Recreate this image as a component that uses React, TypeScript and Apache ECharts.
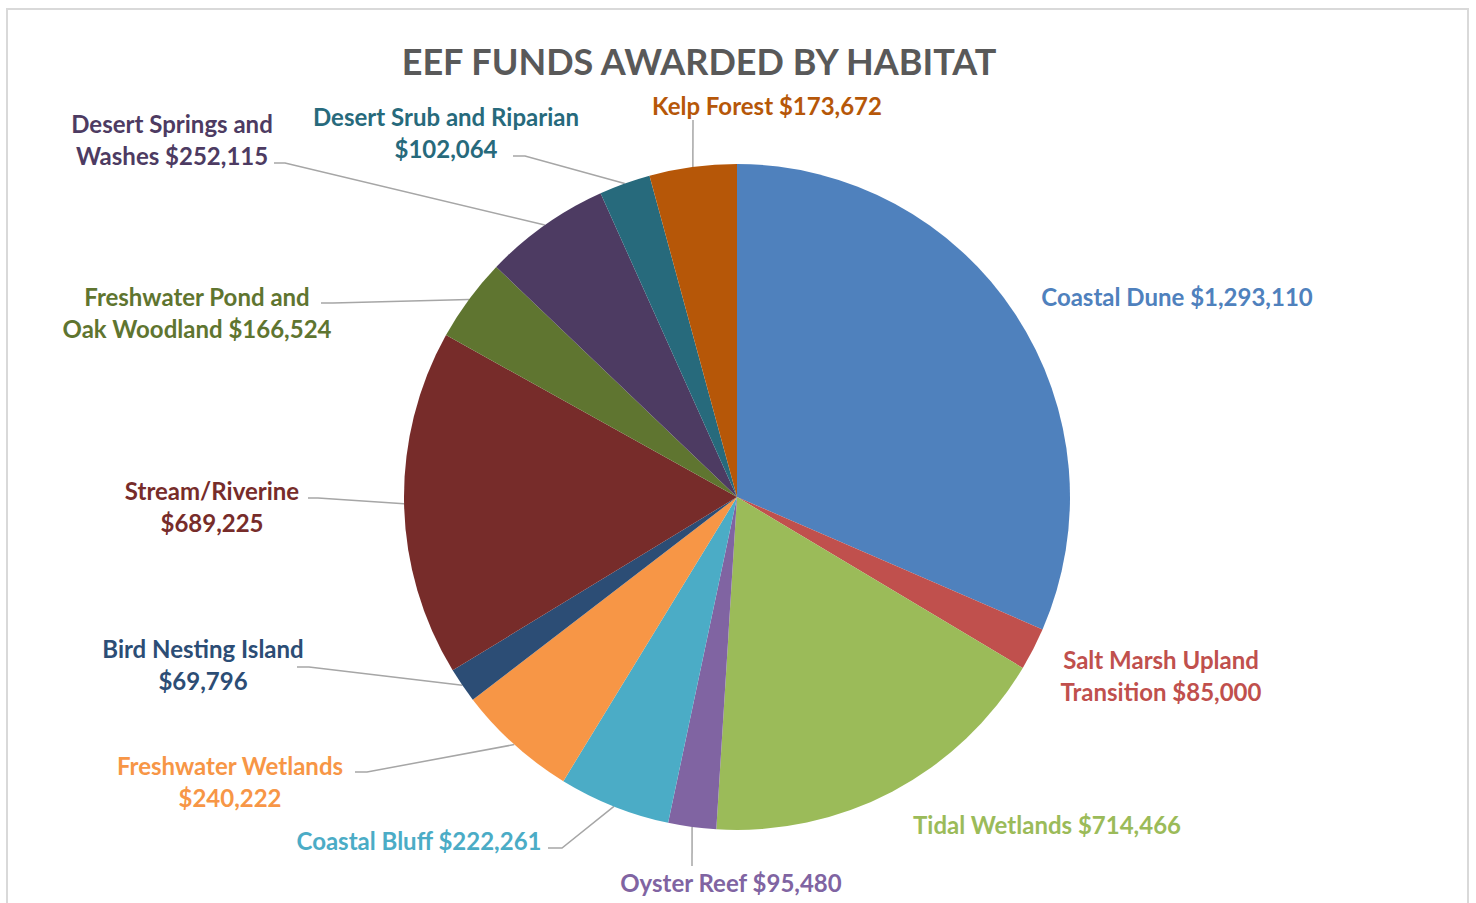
import React, { useEffect, useRef } from "react";
import * as echarts from "echarts";

// ---------- data ----------
const chartTitle = "EEF FUNDS AWARDED BY HABITAT";
const categories = [
  "Coastal Dune",
  "Salt Marsh Upland Transition",
  "Tidal Wetlands",
  "Oyster Reef",
  "Coastal Bluff",
  "Freshwater Wetlands",
  "Bird Nesting Island",
  "Stream/Riverine",
  "Freshwater Pond and Oak Woodland",
  "Desert Springs and Washes",
  "Desert Srub and Riparian",
  "Kelp Forest",
];
const values = [
  1293110, 85000, 714466, 95480, 222261, 240222, 69796, 689225, 166524, 252115,
  102064, 173672,
];
// number of words on the first line of each label (0 = single line)
const labelBreakAfterWords = [0, 3, 0, 0, 0, 2, 3, 1, 3, 3, 4, 0];

// ---------- styles / layout ----------
const colors = [
  "#4F81BD", "#C0504D", "#9BBB59", "#8064A2", "#4BACC6", "#F79646",
  "#2C4D75", "#772C2A", "#5F7530", "#4D3B62", "#276A7C", "#B65708",
];
const PIE_CENTER = [737, 497];
const PIE_RADIUS = 333;
const FONT = "Lato, 'Open Sans', sans-serif";

type Placement = { x: number; y: number; bend?: number[]; end?: number[] };
const placements: Placement[] = [
  { x: 1177, y: 296 },
  { x: 1161, y: 675 },
  { x: 1047, y: 824 },
  { x: 731, y: 882, bend: [692, 866], end: [692, 866] },
  { x: 419, y: 840, bend: [562, 848], end: [548, 848] },
  { x: 230, y: 781, bend: [367, 772], end: [355, 772] },
  { x: 203, y: 664, bend: [309, 667], end: [297, 667] },
  { x: 212, y: 506, bend: [318, 498], end: [308, 498] },
  { x: 197, y: 312, bend: [333, 303], end: [321, 303] },
  { x: 172, y: 139, bend: [285, 163], end: [274, 163] },
  { x: 446, y: 132, bend: [525, 156], end: [513, 156] },
  { x: 767, y: 105, bend: [693, 120], end: [693, 120] },
];

function fmtMoney(v: number): string {
  return "$" + String(v).replace(/\B(?=(\d{3})+(?!\d))/g, ",");
}
function labelText(i: number): string {
  const words = `${categories[i]} ${fmtMoney(values[i])}`.split(" ");
  const b = labelBreakAfterWords[i];
  return b ? words.slice(0, b).join(" ") + "\n" + words.slice(b).join(" ") : words.join(" ");
}
function edgePoint(i: number): number[] {
  const total = values.reduce((a, b) => a + b, 0);
  let before = 0;
  for (let k = 0; k < i; k++) before += values[k];
  const mid = ((before + values[i] / 2) / total) * Math.PI * 2;
  return [PIE_CENTER[0] + PIE_RADIUS * Math.sin(mid), PIE_CENTER[1] - PIE_RADIUS * Math.cos(mid)];
}

export default function App() {
  const ref = useRef<HTMLDivElement>(null);
  useEffect(() => {
    if (!ref.current) return;
    const chart = echarts.init(ref.current, undefined, { renderer: "svg" });
    const data = categories.map((name, i) => ({
      name,
      value: values[i],
      itemStyle: { color: colors[i] },
      label: { color: colors[i] },
      labelLine: { show: !!placements[i].bend },
    }));
    chart.setOption({
      animation: false,
      backgroundColor: "#ffffff",
      graphic: [
        {
          type: "rect",
          z: -1,
          shape: { x: 7, y: 9, width: 1461, height: 1000 },
          style: { fill: "none", stroke: "#d9d9d9", lineWidth: 2 },
        },
        {
          type: "text",
          x: 699,
          y: 61,
          style: {
            text: chartTitle,
            fill: "#595959",
            font: `bold 36px ${FONT}`,
            textAlign: "center",
            textVerticalAlign: "middle",
          },
        },
      ],
      series: [
        {
          type: "pie",
          center: PIE_CENTER,
          radius: PIE_RADIUS,
          startAngle: 90,
          clockwise: true,
          avoidLabelOverlap: false,
          silent: true,
          emphasis: { disabled: true },
          itemStyle: { borderWidth: 0 },
          label: {
            show: true,
            position: "outside",
            formatter: (p: any) => labelText(p.dataIndex),
            fontFamily: FONT,
            fontWeight: "bold",
            fontSize: 24,
            lineHeight: 32,
            align: "center",
          },
          labelLine: {
            show: true,
            length: 10,
            length2: 10,
            smooth: false,
            lineStyle: { color: "#a6a6a6", width: 1.5 },
          },
          labelLayout: (params: any) => {
            const i = params.dataIndex;
            const p = placements[i];
            const res: any = { x: p.x, y: p.y, align: "center", verticalAlign: "middle" };
            if (p.bend && p.end) {
              const edge =
                params.labelLinePoints && params.labelLinePoints[0]
                  ? params.labelLinePoints[0]
                  : edgePoint(i);
              res.labelLinePoints = [edge, p.bend, p.end];
            }
            return res;
          },
          data,
        },
      ],
    });
    return () => chart.dispose();
  }, []);
  return (
    <div
      ref={ref}
      style={{ position: "absolute", left: 0, top: 0, width: 1476, height: 903 }}
    />
  );
}
